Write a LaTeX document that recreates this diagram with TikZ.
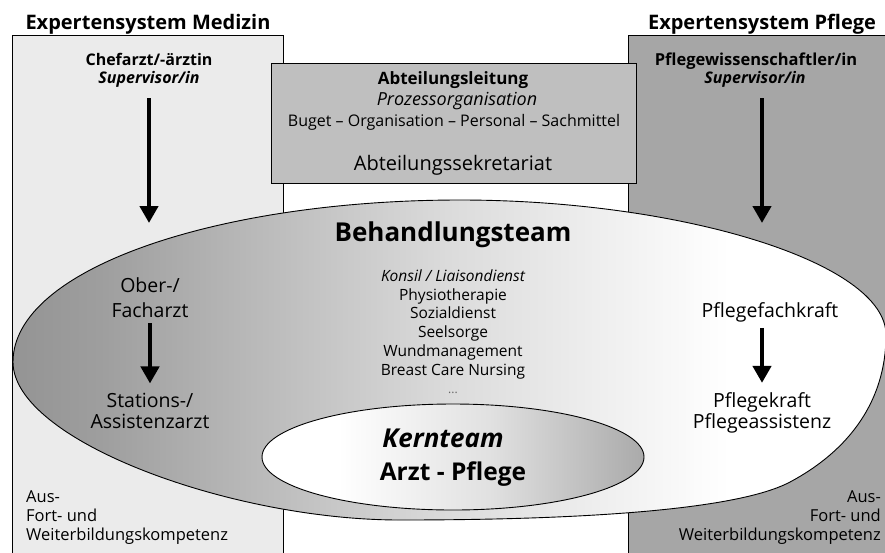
\documentclass[tikz,border=0pt]{standalone}
\usepackage{fontspec}
\setmainfont{Open Sans}
\usetikzlibrary{arrows.meta}
\pgfdeclarehorizontalshading{bigshade}{100bp}{color(0bp)=(black!62); color(30bp)=(black!38); color(50bp)=(black!14); color(66bp)=(white); color(100bp)=(white)}
\pgfdeclarehorizontalshading{innershade}{100bp}{color(0bp)=(white); color(35bp)=(white); color(55bp)=(black!12); color(100bp)=(black!60)}
\begin{document}
\begin{tikzpicture}[x=1pt,y=-1pt,
  rg/.style={font=\fontsize{#1}{#1}\selectfont},
  bf/.style={font=\fontsize{#1}{#1}\selectfont\bfseries},
  it/.style={font=\fontsize{#1}{#1}\selectfont\itshape},
  bi/.style={font=\fontsize{#1}{#1}\selectfont\bfseries\itshape},
  txt/.style={inner sep=0pt, anchor=base},
  sysbox/.style={draw=black, line width=0.9pt},
  bigarrow/.style={line width=4.5pt, -{Triangle[width=18pt,length=17pt]}},
]
\useasboundingbox (0,0) rectangle (885,552);
\fill[white] (0,0) rectangle (885,552);
% system boxes
\draw[sysbox, fill=black!8] (12,35) rectangle (283,556);
\draw[sysbox, fill=black!35] (628,35) rectangle (889,556);
\draw[sysbox, fill=black!25] (271,63) rectangle (636,183);
% treatment team shape
\draw[line width=0.9pt, shading=bigshade]
  (13,362) .. controls (13,268) and (220,200) .. (460,200)
  .. controls (680,200) and (886,262) .. (886,335)
  .. controls (886,400) and (850,450) .. (790,482)
  .. controls (730,514) and (540,520) .. (400,520)
  .. controls (230,520) and (13,440) .. cycle;
\draw[line width=0.9pt, shading=innershade] (453,457) ellipse [x radius=191, y radius=53];
% titles
\node[txt, bf=20] (tmed) at (148,29) {Expertensystem Medizin};
\node[txt, bf=20] (tpfl) at (762,29) {Expertensystem Pflege};
% left column
\node[txt, bf=16] (chef) at (149,65) {Chefarzt/-ärztin};
\node[txt, bi=16] (supL) at (149,83) {Supervisor/in};
\coordinate (tipL) at (149,223);
\draw[bigarrow, shorten <=11pt] (tipL |- supL.south) -- (tipL);
\node[txt, rg=19.5] (ober) at (150,292) {Ober-/};
\node[txt, rg=19.5] (fach) at (150,317) {Facharzt};
\node[txt, rg=19.5] (stat) at (150,407) {Stations-/};
\node[txt, rg=19.5] (assi) at (150,428) {Assistenzarzt};
\draw[bigarrow, shorten <=6pt, shorten >=9pt] (fach.south) -- (stat.north);
% right column
\node[txt, bf=16.5] (pwiss) at (756,65) {Pflegewissenschaftler/in};
\node[txt, bi=16] (supR) at (755,83) {Supervisor/in};
\coordinate (tipR) at (762,223);
\draw[bigarrow, shorten <=11pt] (tipR |- supR.south) -- (tipR);
\node[txt, rg=19.5] (pfk) at (770,317) {Pflegefachkraft};
\node[txt, rg=19.5] (pk) at (762,407) {Pflegekraft};
\node[txt, rg=19.5] (pa) at (762,428) {Pflegeassistenz};
\draw[bigarrow, shorten <=6pt, shorten >=9pt] (pfk.south -| pk) -- (pk.north);
% department box
\node[txt, bf=17] (abt) at (453,84) {Abteilungsleitung};
\node[txt, it=18] (proz) at (457,105) {Prozessorganisation};
\node[txt, rg=16] (buget) at (454,126) {Buget – Organisation – Personal – Sachmittel};
\node[txt, rg=20] (sekr) at (453,170) {Abteilungssekretariat};
% treatment team
\node[txt, bf=26] (bteam) at (453,241) {Behandlungsteam};
\node[txt, it=15.5] (konsil) at (453,281) {Konsil / Liaisondienst};
\node[txt, rg=15.5] (physio) at (453,300) {Physiotherapie};
\node[txt, rg=15.5] (sozial) at (453,318) {Sozialdienst};
\node[txt, rg=15.5] (seel) at (453,337) {Seelsorge};
\node[txt, rg=15.5] (wund) at (453,356) {Wundmanagement};
\node[txt, rg=15.5] (breast) at (453,375) {Breast Care Nursing};
\node[txt, rg=12, text=black!60] (dots) at (453,393) {...};
% core team
\node[txt, bi=26] (kern) at (443,447) {Kernteam};
\node[txt, bf=24.5] (arzt) at (453,480) {Arzt - Pflege};
% education
\node[txt, rg=16.5, anchor=base west] (ausL) at (26,502) {Aus-};
\node[txt, rg=16.5, anchor=base west] (fortL) at (26,521) {Fort- und};
\node[txt, rg=16.5, anchor=base west] (weitL) at (26,540) {Weiterbildungskompetenz};
\node[txt, rg=16.5, anchor=base east] (ausR) at (881,502) {Aus-};
\node[txt, rg=16.5, anchor=base east] (fortR) at (881,521) {Fort- und};
\node[txt, rg=16.5, anchor=base east] (weitR) at (881,540) {Weiterbildungskompetenz};
\end{tikzpicture}
\end{document}
